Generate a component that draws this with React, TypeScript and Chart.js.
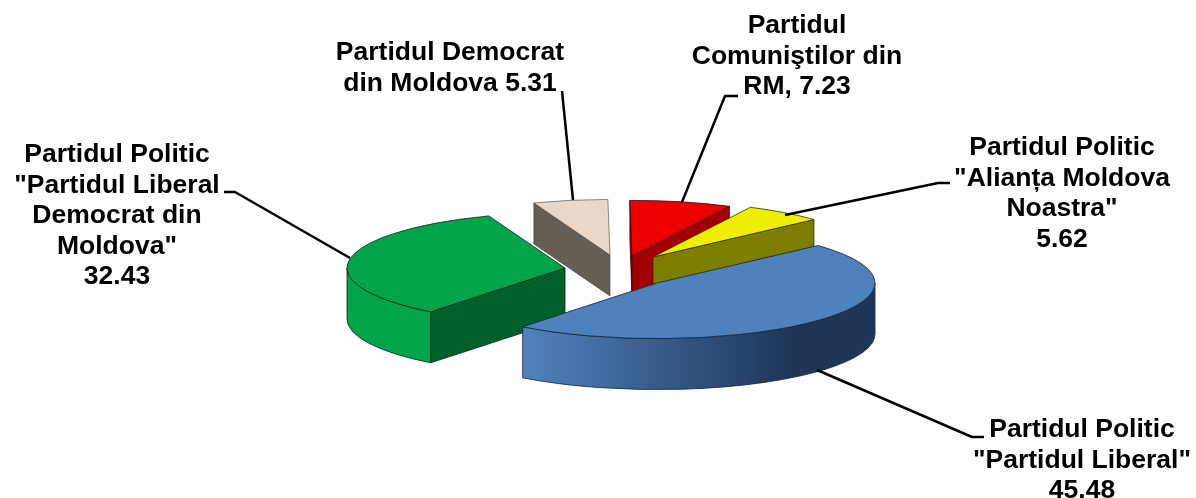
import React, { useEffect, useRef } from "react";
import { Chart, registerables } from "chart.js";

Chart.register(...registerables);

// Data, in drawing order clockwise from the Liberal slice
const categories = [
  'Partidul Politic "Partidul Liberal"',
  'Partidul Politic "Partidul Liberal Democrat din Moldova"',
  "Partidul Democrat din Moldova",
  "Partidul Comuniştilor din RM",
  'Partidul Politic "Alianța Moldova Noastra"',
];
const seriesValues = [45.48, 32.43, 5.31, 7.23, 5.62];
const labelLines = [
  ["Partidul Politic", '"Partidul Liberal"', "45.48"],
  ["Partidul Politic", '"Partidul Liberal', "Democrat din", 'Moldova"', "32.43"],
  ["Partidul Democrat", "din Moldova 5.31"],
  ["Partidul", "Comuniştilor din", "RM, 7.23"],
  ["Partidul Politic", '"Alianța Moldova', 'Noastra"', "5.62"],
];

// Styles
const topColors = ["#4F81BD", "#00A44A", "#E9D8C8", "#EE0000", "#EEEE00"];
const radialWallColors = ["#2A4566", "#00602B", "#665D55", "#A00000", "#7D7D00"];
const outerWallColors = ["#4F81BD", "#00A44A", "#665D55", "#A00000", "#7D7D00"];
const outlineColors = [
  "rgba(20,40,70,0.85)",
  "rgba(0,40,20,0.8)",
  "rgba(60,50,45,0.55)",
  "rgba(70,0,0,0.8)",
  "rgba(50,50,0,0.8)",
];
const sliceDepth = [51, 51, 41, 40, 40];
const slicePull = [
  { x: 37, y: 15 },
  { x: -55, y: 0 },
  { x: -10, y: -13 },
  { x: 12, y: -12 },
  { x: 33, y: -11 },
];
const wallOrder = [3, 2, 4, 1, 0];
const topOrder = [2, 3, 4, 1, 0];

const pieCenter = { x: 620, y: 268 };
const squash = 0.255;
const pieRadius = 218;
const startRotation = 47.6;

// Text placement: centre x, first line centre y, per slice
const labelAnchor = [
  { x: 1082, y: 430 },
  { x: 117, y: 155 },
  { x: 450, y: 53 },
  { x: 797, y: 26 },
  { x: 1062, y: 148 },
];
const lineHeight = 30.5;
const leaders = [
  [[984, 437], [972, 437], [817, 370]],
  [[224, 192], [235, 192], [350, 258]],
  [[562, 91], [573, 200]],
  [[738, 96], [725, 96], [682, 202]],
  [[950, 183], [938, 183], [785, 215]],
];

const pie3dPlugin = {
  id: "pie3d",
  beforeDatasetDraw(chart: any) {
    const ctx: CanvasRenderingContext2D = chart.ctx;
    const arcs = chart.getDatasetMeta(0).data;
    const apex = (i: number) => ({
      x: pieCenter.x + slicePull[i].x,
      y: pieCenter.y + slicePull[i].y,
    });
    const rim = (i: number, a: number) => {
      const p = apex(i);
      const r = arcs[i].outerRadius;
      return { x: p.x + r * Math.cos(a), y: p.y + r * squash * Math.sin(a) };
    };

    const quad = (i: number, a: number, fill: string) => {
      const p = apex(i);
      const q = rim(i, a);
      const d = sliceDepth[i];
      ctx.beginPath();
      ctx.moveTo(p.x, p.y);
      ctx.lineTo(q.x, q.y);
      ctx.lineTo(q.x, q.y + d);
      ctx.lineTo(p.x, p.y + d);
      ctx.closePath();
      ctx.fillStyle = fill;
      ctx.fill();
      ctx.strokeStyle = outlineColors[i];
      ctx.lineWidth = 1;
      ctx.stroke();
    };

    for (const i of wallOrder) {
      const { startAngle: s, endAngle: e } = arcs[i];
      if (Math.cos(s) < 0) quad(i, s, radialWallColors[i]);
      if (Math.cos(e) > 0) quad(i, e, radialWallColors[i]);
      const lo = Math.max(s, 0);
      const hi = Math.min(e, Math.PI);
      if (hi > lo) {
        const p = apex(i);
        const r = arcs[i].outerRadius;
        const d = sliceDepth[i];
        ctx.beginPath();
        ctx.ellipse(p.x, p.y, r, r * squash, 0, lo, hi);
        ctx.ellipse(p.x, p.y + d, r, r * squash, 0, hi, lo, true);
        ctx.closePath();
        if (i === 0) {
          const g = ctx.createLinearGradient(p.x - r * 0.6, 0, p.x + r * 0.62, 0);
          g.addColorStop(0, "#4F81BD");
          g.addColorStop(1, "#1F3557");
          ctx.fillStyle = g;
        } else {
          ctx.fillStyle = outerWallColors[i];
        }
        ctx.fill();
        ctx.strokeStyle = outlineColors[i];
        ctx.lineWidth = 1;
        ctx.stroke();
      }
    }

    for (const i of topOrder) {
      const arc = arcs[i];
      const p = apex(i);
      ctx.save();
      ctx.translate(p.x, p.y);
      ctx.scale(1, squash);
      ctx.translate(-arc.x, -arc.y);
      arc.draw(ctx);
      ctx.restore();
      ctx.beginPath();
      ctx.moveTo(p.x, p.y);
      ctx.ellipse(p.x, p.y, arc.outerRadius, arc.outerRadius * squash, 0, arc.startAngle, arc.endAngle);
      ctx.closePath();
      ctx.strokeStyle = outlineColors[i];
      ctx.lineWidth = 1;
      ctx.stroke();
    }
    return false;
  },
  afterDraw(chart: any) {
    const ctx: CanvasRenderingContext2D = chart.ctx;
    ctx.save();
    ctx.strokeStyle = "#000";
    ctx.lineWidth = 2.5;
    ctx.lineJoin = "round";
    for (const pts of leaders) {
      ctx.beginPath();
      pts.forEach(([x, y], n) => (n ? ctx.lineTo(x, y) : ctx.moveTo(x, y)));
      ctx.stroke();
    }
    ctx.fillStyle = "#000";
    ctx.font = 'bold 26.5px "Liberation Sans"';
    ctx.textAlign = "center";
    ctx.textBaseline = "middle";
    labelLines.forEach((lines, i) => {
      lines.forEach((t, n) => {
        ctx.fillText(t, labelAnchor[i].x, labelAnchor[i].y + n * lineHeight);
      });
    });
    ctx.restore();
  },
};

export default function App() {
  const ref = useRef<HTMLCanvasElement>(null);
  useEffect(() => {
    const chart = new Chart(ref.current!, {
      type: "pie",
      data: {
        labels: categories,
        datasets: [
          {
            data: seriesValues,
            backgroundColor: topColors,
            borderWidth: 0,
            radius: pieRadius,
          },
        ],
      },
      options: {
        responsive: false,
        animation: false,
        rotation: startRotation,
        layout: { padding: 0 },
        plugins: { legend: { display: false }, tooltip: { enabled: false } },
      },
      plugins: [pie3dPlugin],
    } as any);
    return () => chart.destroy();
  }, []);
  return (
    <div style={{ position: "absolute", left: 0, top: 0, width: 1196, height: 498, background: "#fff" }}>
      <canvas ref={ref} width={1196} height={498} style={{ display: "block" }} />
    </div>
  );
}
